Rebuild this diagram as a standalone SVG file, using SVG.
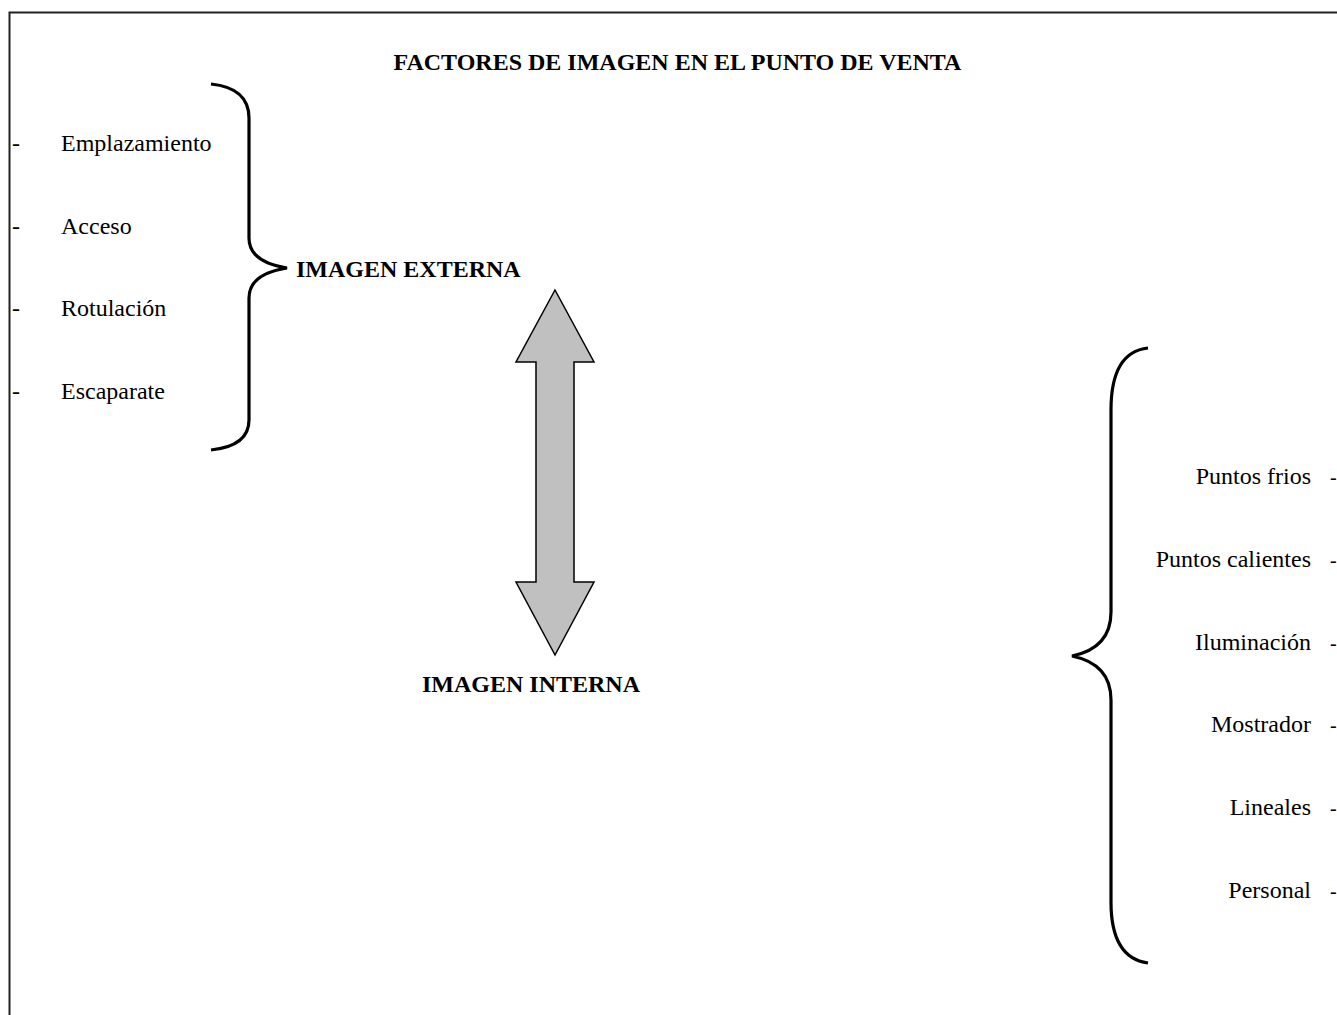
<svg xmlns="http://www.w3.org/2000/svg" width="1337" height="1015" viewBox="0 0 1337 1015">
<style>
text{font-family:"Liberation Serif","Times New Roman",serif;font-size:24px;fill:#000}
.b{font-weight:bold}
.r{text-anchor:end}
.d{font-size:20px}
.brace{fill:none;stroke:#000;stroke-width:3.2;stroke-linecap:butt}
</style>
<rect width="1337" height="1015" fill="#fff"/>
<rect id="frame" x="9.5" y="12.5" width="1400" height="1100" fill="none" stroke="#222" stroke-width="2"/>
<g id="title"><text class="b" x="677.5" y="70" text-anchor="middle">FACTORES DE IMAGEN EN EL PUNTO DE VENTA</text></g>
<g id="external-items">
<text x="12" y="151">-</text><text x="61" y="151">Emplazamiento</text>
<text x="12" y="234">-</text><text x="61" y="234">Acceso</text>
<text x="12" y="316">-</text><text x="61" y="316">Rotulación</text>
<text x="12" y="399">-</text><text x="61" y="399">Escaparate</text>
</g>
<g id="imagen-externa"><text class="b" x="296" y="277">IMAGEN EXTERNA</text></g>
<g id="imagen-interna"><text class="b" x="422" y="692">IMAGEN INTERNA</text></g>
<g id="internal-items">
<text class="r" x="1311" y="484">Puntos frios</text><text class="d" x="1330" y="484">-</text>
<text class="r" x="1311" y="567">Puntos calientes</text><text class="d" x="1330" y="567">-</text>
<text class="r" x="1311" y="650">Iluminación</text><text class="d" x="1330" y="650">-</text>
<text class="r" x="1311" y="732">Mostrador</text><text class="d" x="1330" y="732">-</text>
<text class="r" x="1311" y="815">Lineales</text><text class="d" x="1330" y="815">-</text>
<text class="r" x="1311" y="898">Personal</text><text class="d" x="1330" y="898">-</text>
</g>
<g id="connectors">
<path class="brace" d="M211,84 Q249,88 249,118 L249,238 Q249,262 287,268 Q249,274 249,298 L249,420 Q249,446 211,450"/>
<path class="brace" d="M1148,348 Q1111,352 1111,410 L1111,612 Q1111,648 1072,656 Q1111,664 1111,700 L1111,902 Q1111,958 1148,963"/>
<path id="double-arrow" d="M555,290 L594,362 L574,362 L574,582 L594,582 L555,655 L516,582 L536,582 L536,362 L516,362 Z" fill="#c0c0c0" stroke="#000" stroke-width="1.5" stroke-linejoin="miter"/>
</g>
</svg>
